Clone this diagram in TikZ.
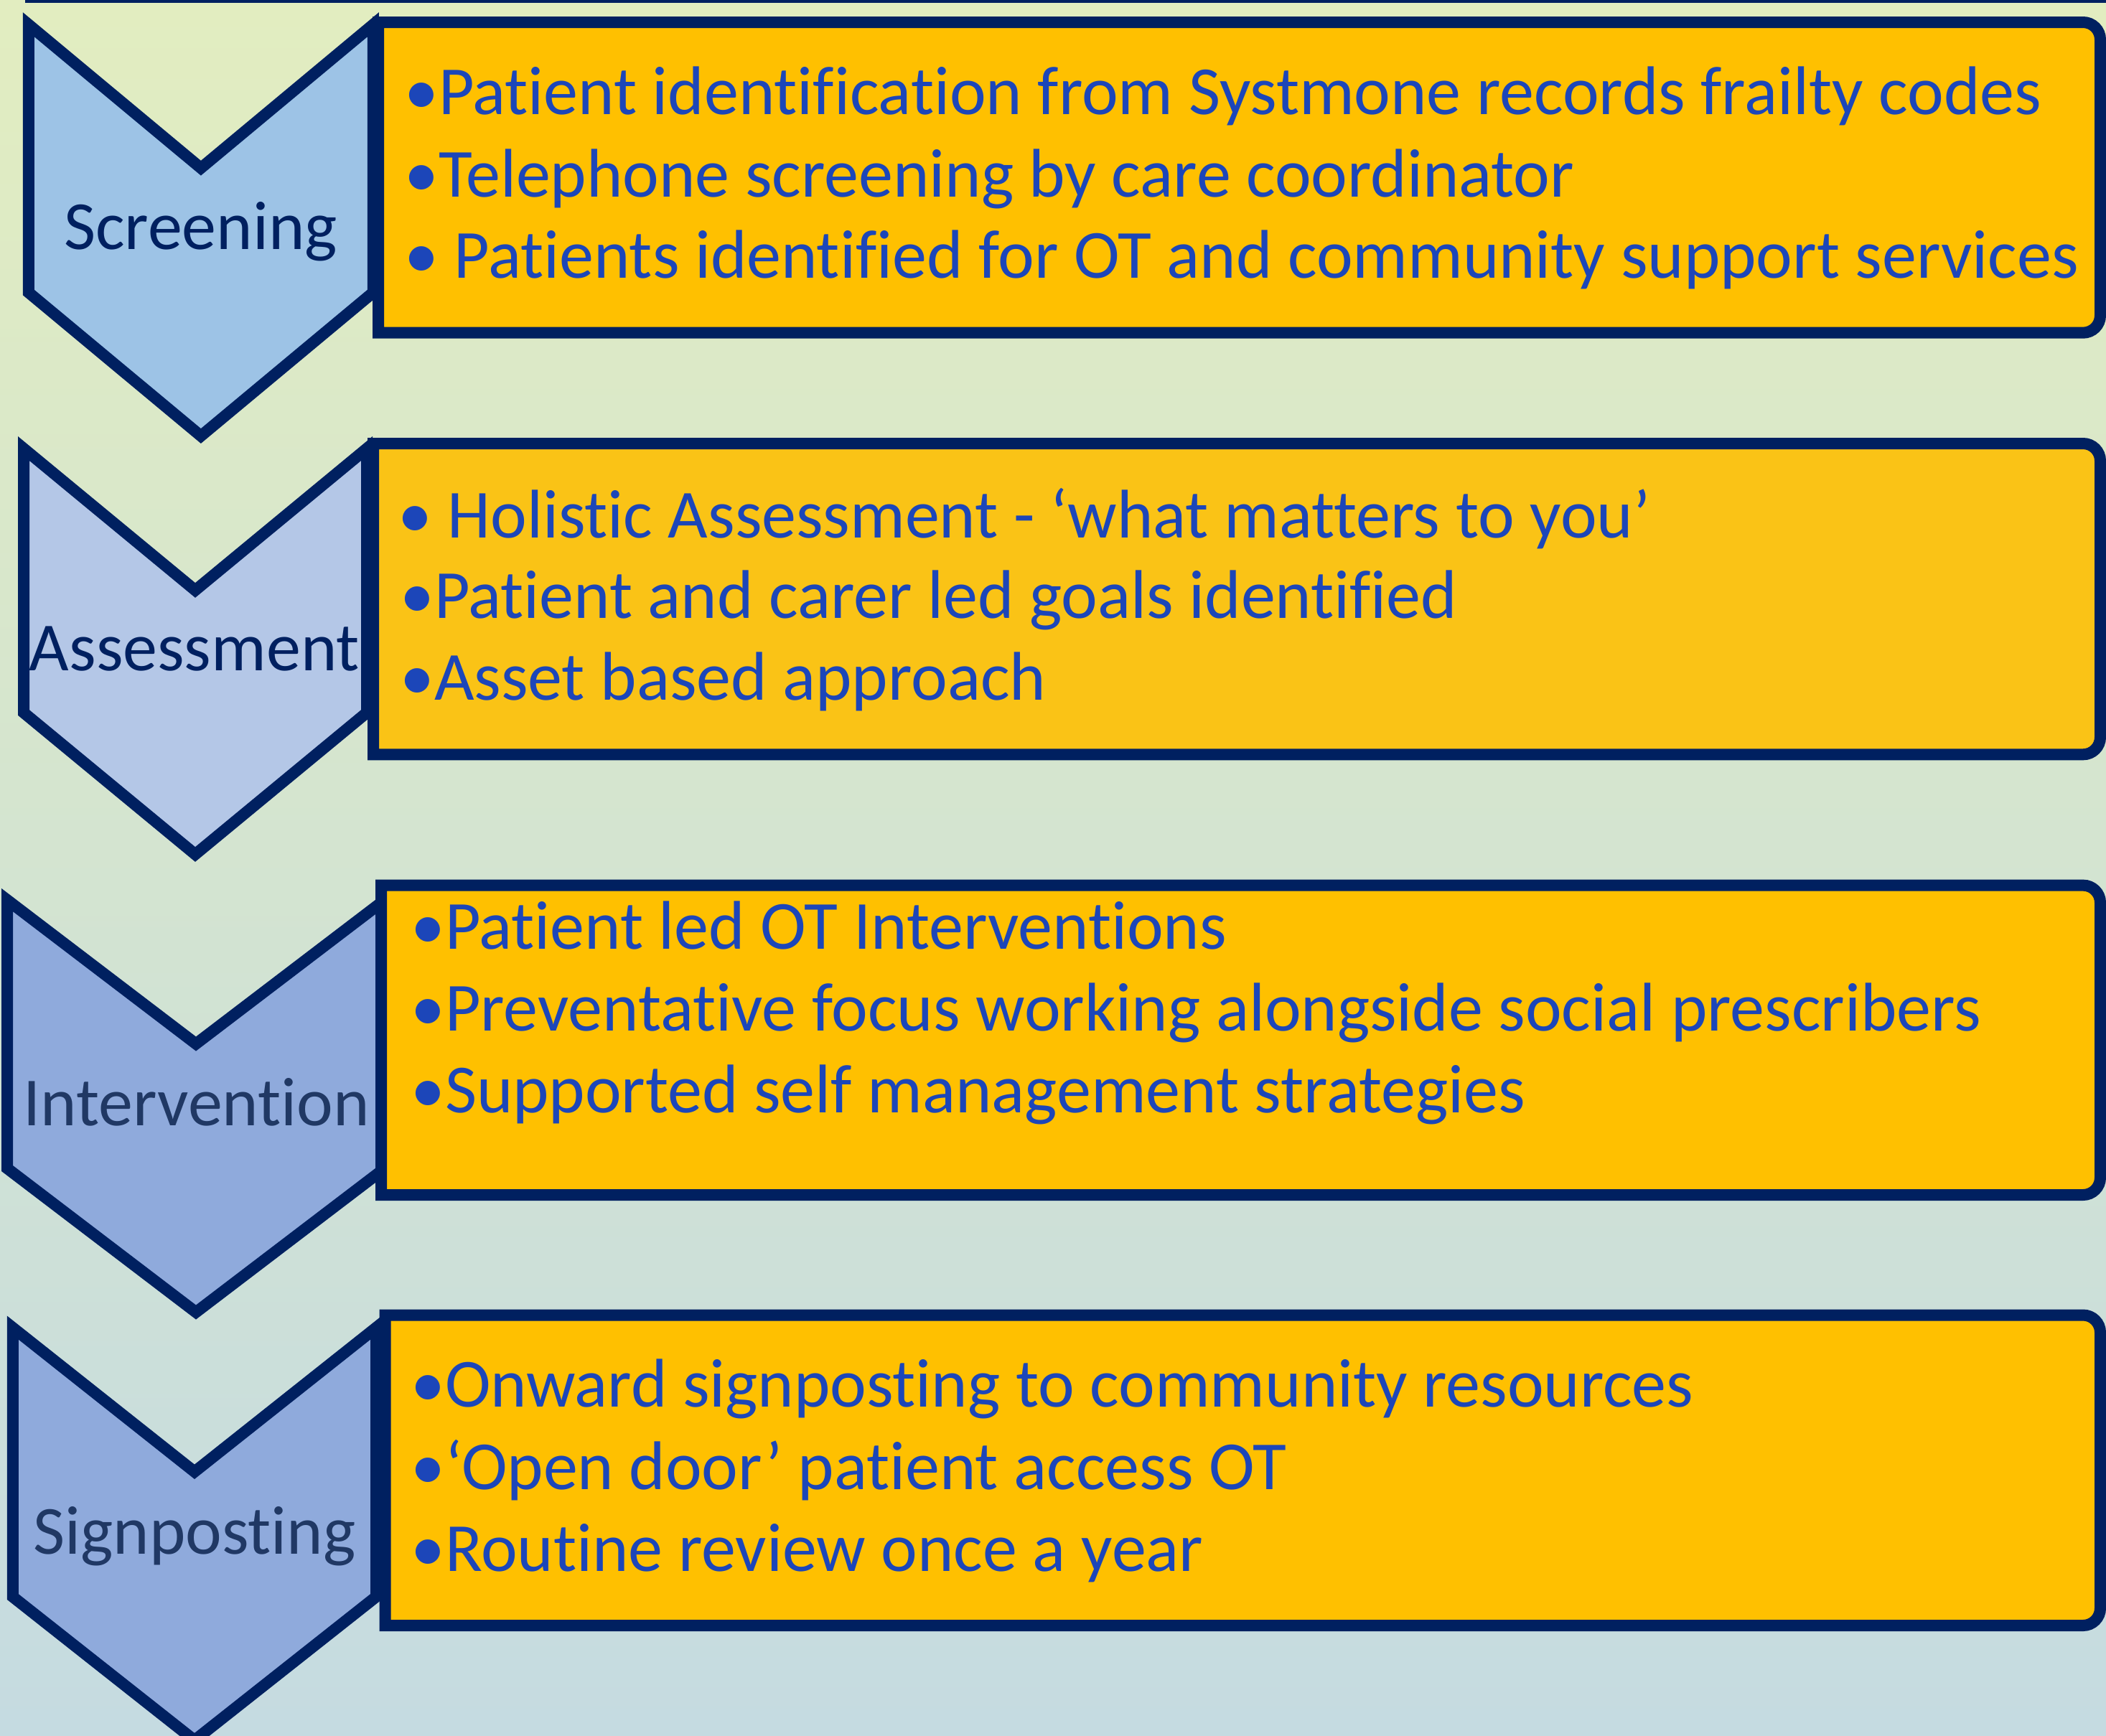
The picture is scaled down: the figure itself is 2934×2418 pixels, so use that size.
\documentclass[tikz,border=0pt]{standalone}
\usepackage{fontspec}
\setmainfont{Carlito}[Ligatures={NoCommon,NoContextual}]
\definecolor{navy}{HTML}{002060}
\definecolor{itemblue}{HTML}{1C46B9}
\definecolor{labelnavy}{HTML}{002060}
\definecolor{labelslate}{HTML}{203864}
\definecolor{panelgold}{HTML}{FFC000}
\definecolor{panelgoldb}{HTML}{FAC316}
\definecolor{chevA}{HTML}{9DC3E6}
\definecolor{chevB}{HTML}{B4C7E7}
\definecolor{chevC}{HTML}{8FAADC}
\definecolor{bgtop}{HTML}{E2EDC0}
\definecolor{bgbottom}{HTML}{C5DBE1}
\begin{document}
\begin{tikzpicture}[x=1pt,y=-1pt,
  chev/.style={draw=navy, line width=16pt, line join=miter},
  panel/.style={draw=navy, line width=16pt, line join=miter},
  steplabel/.style={font=\fontsize{96}{115}\selectfont, inner sep=0pt, anchor=base},
  item/.style={font=\fontsize{96}{115}\selectfont, text=itemblue, inner sep=0pt, anchor=base west}]

% canvas and background gradient
\useasboundingbox (0,0) rectangle (2934,2418);
\shade[top color=bgtop, bottom color=bgbottom] (0,0) rectangle (2934,2418);
\draw[navy, line width=4pt] (35,2) -- (2934,2);

% step chevrons
\draw[chev, fill=chevA] (39.8,34.2) -- (279.9,234.2) -- (519.9,34.2) -- (519.9,407.5) -- (279.9,607.5) -- (39.8,407.5) -- cycle;
\draw[chev, fill=chevB] (33,625) -- (272,822.5) -- (511,625) -- (511,993) -- (272,1190.5) -- (33,993) -- cycle;
\draw[chev, fill=chevC] (10,1254) -- (273,1454.5) -- (536,1254) -- (536,1628) -- (273,1828.5) -- (10,1628) -- cycle;
\draw[chev, fill=chevC] (17.8,1850) -- (271,2050.8) -- (524,1850) -- (524,2225) -- (271,2425) -- (17.8,2225) -- cycle;

\node[steplabel, text=labelnavy] (lab1) at (279.5,347.4) {Screening};
\node[steplabel, text=labelnavy] (lab2) at (270.8,934.5) {Assessment};
\node[steplabel, text=labelslate] (lab3) at (273.5,1568) {Intervention};
\node[steplabel, text=labelslate] (lab4) at (271,2165) {Signposting};

% detail panels, square on the left and rounded on the right
\draw[panel, fill=panelgold] (527,31) -- (2902,31) arc[start angle=-90, end angle=0, radius=24] -- (2926,439.7) arc[start angle=0, end angle=90, radius=24] -- (527,463.7) -- cycle;
\draw[panel, fill=panelgoldb] (520,618) -- (2902,618) arc[start angle=-90, end angle=0, radius=24] -- (2926,1027.3) arc[start angle=0, end angle=90, radius=24] -- (520,1051.3) -- cycle;
\draw[panel, fill=panelgold] (531,1233.6) -- (2902,1233.6) arc[start angle=-90, end angle=0, radius=24] -- (2926,1641) arc[start angle=0, end angle=90, radius=24] -- (531,1665) -- cycle;
\draw[panel, fill=panelgold] (536.5,1832.5) -- (2902,1832.5) arc[start angle=-90, end angle=0, radius=24] -- (2926,2241) arc[start angle=0, end angle=90, radius=24] -- (536.5,2265) -- cycle;

% panel texts
\node[item] (p1a) at (563,159.3) {•Patient identification from Systmone records frailty codes};
\node[item] (p1b) at (563,274) {•Telephone screening by care coordinator};
\node[item] (p1c) at (563,387.7) {• Patients identified for OT and community support services};

\node[item] (p2a) at (554,749) {• Holistic Assessment - ‘what matters to you’};
\node[item] (p2b) at (557,861) {•Patient and carer led goals identified};
\node[item] (p2c) at (557,975) {•Asset based approach};

\node[item] (p3a) at (572,1322) {•Patient led OT Interventions};
\node[item] (p3b) at (572,1436) {•Preventative focus working alongside social prescribers};
\node[item] (p3c) at (572,1550) {•Supported self management strategies};

\node[item] (p4a) at (572,1960) {•Onward signposting to community resources};
\node[item] (p4b) at (572,2075) {•‘Open door’ patient access OT};
\node[item] (p4c) at (572,2189) {•Routine review once a year};
\end{tikzpicture}
\end{document}
